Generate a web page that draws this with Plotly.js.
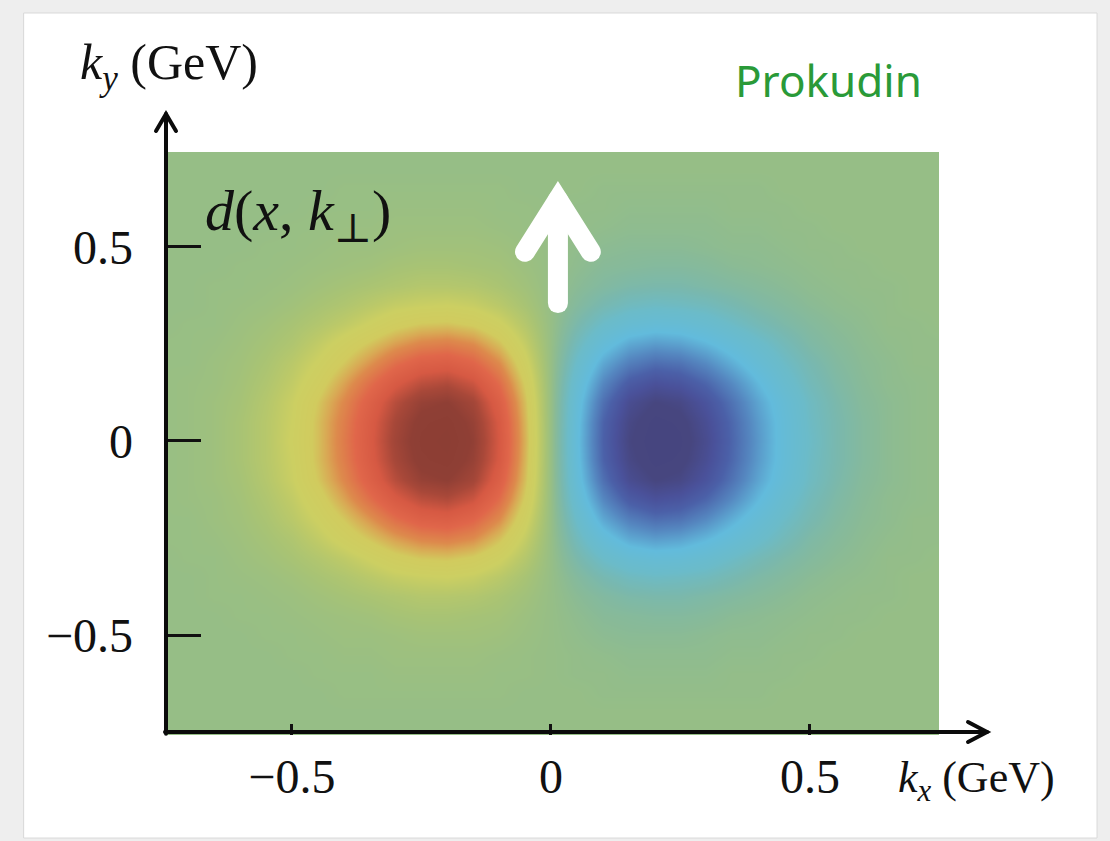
<!DOCTYPE html>
<html>
<head>
<meta charset="utf-8">
<script src="https://cdn.plot.ly/plotly-3.0.1.min.js"></script>
<style>
  html, body { margin: 0; padding: 0; background: #eeeeee; }
  #chart { width: 1110px; height: 841px; }
  .shapelayer path { stroke-linecap: round; }
</style>
</head>
<body>
<div id="chart"></div>
<script>
// k_x grid (GeV)
const kx = [-0.75,-0.70,-0.65,-0.60,-0.55,-0.50,-0.45,-0.40,-0.35,-0.30,-0.25,-0.20,-0.15,-0.10,-0.05,
            0.00,0.05,0.10,0.15,0.20,0.25,0.30,0.35,0.40,0.45,0.50,0.55,0.60,0.65,0.70,0.75];
// k_y grid (GeV)
const ky = [-0.80,-0.75,-0.70,-0.65,-0.60,-0.55,-0.50,-0.45,-0.40,-0.35,-0.30,-0.25,-0.20,-0.15,-0.10,-0.05,
            0.00,0.05,0.10,0.15,0.20,0.25,0.30,0.35,0.40,0.45,0.50,0.55,0.60,0.65,0.70,0.75,0.80];

// estimated relative density d(x,k_perp); one row per |k_y| (picture is mirror-symmetric in k_y)
const r00 = [0.01,0.02,0.04,0.08,0.14,0.23,0.35,0.51,0.68,0.85,0.97,1.00,0.91,0.70,0.38, 0, -0.38,-0.70,-0.91,-1.00,-0.97,-0.85,-0.68,-0.51,-0.35,-0.23,-0.14,-0.08,-0.04,-0.02,-0.01];
const r05 = [0.01,0.02,0.04,0.08,0.14,0.22,0.35,0.50,0.67,0.83,0.95,0.98,0.89,0.69,0.37, 0, -0.37,-0.69,-0.89,-0.98,-0.95,-0.83,-0.67,-0.50,-0.35,-0.22,-0.14,-0.08,-0.04,-0.02,-0.01];
const r10 = [0.01,0.02,0.04,0.07,0.13,0.21,0.33,0.47,0.63,0.78,0.89,0.92,0.84,0.64,0.35, 0, -0.35,-0.64,-0.84,-0.92,-0.89,-0.78,-0.63,-0.47,-0.33,-0.21,-0.13,-0.07,-0.04,-0.02,-0.01];
const r15 = [0.01,0.02,0.03,0.06,0.11,0.18,0.28,0.41,0.55,0.68,0.77,0.80,0.73,0.56,0.31, 0, -0.31,-0.56,-0.73,-0.80,-0.77,-0.68,-0.55,-0.41,-0.28,-0.18,-0.11,-0.06,-0.03,-0.02,-0.01];
const r20 = [0.01,0.01,0.03,0.05,0.09,0.15,0.23,0.33,0.44,0.55,0.63,0.65,0.59,0.46,0.25, 0, -0.25,-0.46,-0.59,-0.65,-0.63,-0.55,-0.44,-0.33,-0.23,-0.15,-0.09,-0.05,-0.03,-0.01,-0.01];
const r25 = [0.01,0.01,0.02,0.04,0.07,0.11,0.18,0.26,0.34,0.42,0.48,0.50,0.46,0.35,0.19, 0, -0.19,-0.35,-0.46,-0.50,-0.48,-0.42,-0.34,-0.26,-0.18,-0.11,-0.07,-0.04,-0.02,-0.01,-0.01];
const r30 = [0,0.01,0.01,0.03,0.05,0.08,0.12,0.17,0.23,0.29,0.33,0.34,0.31,0.24,0.13, 0, -0.13,-0.24,-0.31,-0.34,-0.33,-0.29,-0.23,-0.17,-0.12,-0.08,-0.05,-0.03,-0.01,-0.01,0];
const r35 = [0,0,0.01,0.02,0.03,0.05,0.08,0.11,0.15,0.19,0.21,0.22,0.20,0.15,0.08, 0, -0.08,-0.15,-0.20,-0.22,-0.21,-0.19,-0.15,-0.11,-0.08,-0.05,-0.03,-0.02,-0.01,0,0];
const r40 = [0,0,0.01,0.01,0.02,0.03,0.05,0.07,0.09,0.11,0.13,0.13,0.12,0.09,0.05, 0, -0.05,-0.09,-0.12,-0.13,-0.13,-0.11,-0.09,-0.07,-0.05,-0.03,-0.02,-0.01,-0.01,0,0];
const r45 = [0,0,0,0.01,0.01,0.02,0.03,0.04,0.05,0.07,0.08,0.08,0.07,0.06,0.03, 0, -0.03,-0.06,-0.07,-0.08,-0.08,-0.07,-0.05,-0.04,-0.03,-0.02,-0.01,-0.01,0,0,0];
const r50 = [0,0,0,0,0.01,0.01,0.02,0.03,0.03,0.04,0.05,0.05,0.05,0.04,0.02, 0, -0.02,-0.04,-0.05,-0.05,-0.05,-0.04,-0.03,-0.03,-0.02,-0.01,-0.01,0,0,0,0];
const r55 = [0,0,0,0,0,0.01,0.01,0.02,0.02,0.03,0.03,0.03,0.03,0.02,0.01, 0, -0.01,-0.02,-0.03,-0.03,-0.03,-0.03,-0.02,-0.02,-0.01,-0.01,0,0,0,0,0];
const r60 = [0,0,0,0,0,0,0.01,0.01,0.01,0.02,0.02,0.02,0.02,0.01,0.01, 0, -0.01,-0.01,-0.02,-0.02,-0.02,-0.02,-0.01,-0.01,-0.01,0,0,0,0,0,0];
const r65 = [0,0,0,0,0,0,0,0.01,0.01,0.01,0.01,0.01,0.01,0.01,0, 0, 0,-0.01,-0.01,-0.01,-0.01,-0.01,-0.01,-0.01,0,0,0,0,0,0,0];
const r70 = [0,0,0,0,0,0,0,0,0,0,0,0,0,0,0, 0, 0,0,0,0,0,0,0,0,0,0,0,0,0,0,0];
const r75 = [0,0,0,0,0,0,0,0,0,0,0,0,0,0,0, 0, 0,0,0,0,0,0,0,0,0,0,0,0,0,0,0];
const r80 = [0,0,0,0,0,0,0,0,0,0,0,0,0,0,0, 0, 0,0,0,0,0,0,0,0,0,0,0,0,0,0,0];

const zRows = [r80,r75,r70,r65,r60,r55,r50,r45,r40,r35,r30,r25,r20,r15,r10,r05,
               r00,
               r05,r10,r15,r20,r25,r30,r35,r40,r45,r50,r55,r60,r65,r70,r75,r80];

const tickVals = [-0.5, 0, 0.5];

const colorscale = [
  [0.00,'#46457f'],
  [0.04,'#47467f'],
  [0.10,'#4a519a'],
  [0.15,'#4b60a8'],
  [0.22,'#5587c0'],
  [0.30,'#62bbdc'],
  [0.38,'#6bbbc9'],
  [0.43,'#79b8ae'],
  [0.47,'#88ba98'],
  [0.50,'#96be86'],
  [0.54,'#a8c374'],
  [0.58,'#bcc968'],
  [0.61,'#cccf62'],
  [0.66,'#d1cb5e'],
  [0.70,'#d9a854'],
  [0.73,'#dd8a4c'],
  [0.79,'#e0664a'],
  [0.85,'#d65943'],
  [0.91,'#a84839'],
  [0.96,'#8f3f35'],
  [1.00,'#8c3e34']
];

const serif = 'Liberation Serif, DejaVu Serif, serif';

const trace = {
  type: 'heatmap',
  x: kx, y: ky, z: zRows,
  zmin: -1, zmax: 1,
  zsmooth: 'best',
  colorscale: colorscale,
  showscale: false,
  hoverinfo: 'skip'
};

const axisLine = {color: '#0b0b0b', width: 4};

const layout = {
  width: 1110, height: 841,
  margin: {l: 167, r: 171, t: 152, b: 106},
  paper_bgcolor: '#eeeeee',
  plot_bgcolor: 'rgba(0,0,0,0)',
  showlegend: false,
  xaxis: {
    range: [-0.741, 0.749],
    tickvals: tickVals,
    ticks: 'inside', ticklen: 11, tickwidth: 3, tickcolor: '#111',
    ticklabelstandoff: 9,
    showgrid: false, zeroline: false, showline: false,
    tickfont: {family: serif, size: 48, color: '#111'}
  },
  yaxis: {
    range: [-0.757, 0.744],
    tickvals: tickVals,
    ticks: 'inside', ticklen: 34, tickwidth: 3, tickcolor: '#111',
    ticklabelstandoff: 33,
    showgrid: false, zeroline: false, showline: false,
    tickfont: {family: serif, size: 48, color: '#111'}
  },
  shapes: [
    // white card
    {type: 'rect', xref: 'paper', yref: 'paper', x0: -0.1852, x1: 1.2047, y0: -0.1767, y1: 1.2384,
     fillcolor: '#ffffff', line: {color: '#d9d9d9', width: 1}, layer: 'below'},
    // axes with arrow heads
    {type: 'path', xref: 'paper', yref: 'paper', path: 'M -0.0013 0.002 L -0.0013 1.0652', line: axisLine},
    {type: 'path', xref: 'paper', yref: 'paper', path: 'M -0.01425 1.036 L -0.0013 1.0652 L 0.01166 1.036', line: axisLine},
    {type: 'path', xref: 'paper', yref: 'paper', path: 'M -0.0026 0.00515 L 1.0622 0.00515', line: axisLine},
    {type: 'path', xref: 'paper', yref: 'paper', path: 'M 1.0376 0.0223 L 1.0622 0.00515 L 1.0376 -0.012', line: axisLine},
    // white polarisation arrow
    {type: 'path', xref: 'x', yref: 'y', path: 'M 0.0135 0.355 L 0.0135 0.621', line: {color: '#ffffff', width: 20}},
    {type: 'path', xref: 'x', yref: 'y', path: 'M -0.050 0.487 L 0.0135 0.621 L 0.077 0.487', line: {color: '#ffffff', width: 20}}
  ],
  annotations: [
    {xref: 'paper', yref: 'paper', x: -0.1153, y: 1.1475, xanchor: 'left', yanchor: 'middle', showarrow: false,
     text: '<i>k</i><sub><i>y</i></sub> (GeV)', font: {family: serif, size: 50, color: '#111'}},
    {xref: 'paper', yref: 'paper', x: 0.9443, y: -0.0772, xanchor: 'left', yanchor: 'middle', showarrow: false,
     text: '<i>k</i><sub><i>x</i></sub> (GeV)', font: {family: serif, size: 44, color: '#111'}},
    {xref: 'paper', yref: 'paper', x: 0.0466, y: 0.892, xanchor: 'left', yanchor: 'middle', showarrow: false,
     text: '<i>d</i>(<i>x</i>, <i>k</i><sub>⊥</sub>)', font: {family: serif, size: 58, color: '#111'}},
    {xref: 'paper', yref: 'paper', x: 0.733, y: 1.1235, xanchor: 'left', yanchor: 'middle', showarrow: false,
     text: 'Prokudin', font: {family: 'Noto Sans, DejaVu Sans, sans-serif', size: 44, color: '#2a9a38'}}
  ]
};

Plotly.newPlot('chart', [trace], layout, {displayModeBar: false, staticPlot: true});
</script>
</body>
</html>
